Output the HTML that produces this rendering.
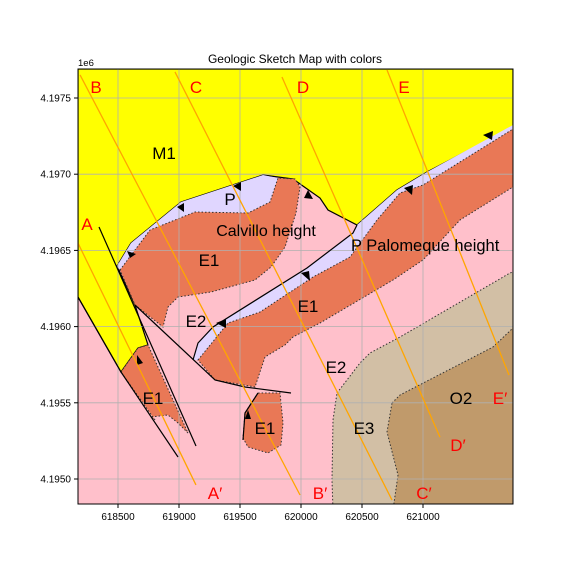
<!DOCTYPE html>
<html><head><meta charset="utf-8"><style>
body{margin:0;background:#fff}
svg{font-family:"Liberation Sans","DejaVu Sans",sans-serif}
</style></head><body>
<svg id="c" width="576" height="576" viewBox="0 0 576 576" xmlns="http://www.w3.org/2000/svg">
<text x="295" y="63" font-size="12" text-anchor="middle">Geologic Sketch Map with colors</text>
<text x="78" y="66" font-size="9.5">1e6</text>
<clipPath id="clip"><rect x="78" y="69" width="435" height="435"/></clipPath>
<g clip-path="url(#clip)">
<rect x="78" y="69" width="435" height="435" fill="#ffc0cb"/>
<polygon fill="#ffff00" stroke="#000" stroke-width="1.2" points="78,69 513,69 513,127 427,172 397,190 357,225 328,210 320,198 293,179 263,175 181,202 131,243 117,266 135,305 148,345 138,348 121,372 78,297"/>
<polygon fill="#e0d6ff" points="117,266 131,243 181,202 263,175 278,178 270,202 248,213 195,212 150,230 120,270"/>
<polygon fill="#e97856" stroke="#333" stroke-width="1" stroke-dasharray="1.5,2" points="120,270 150,230 195,212 248,213 270,202 278,178 295,179 300,187 296,213 285,247 271,267 255,280 211,292 178,297 168,307 163,327 135,305"/>
<polygon fill="#e0d6ff" points="193,360 198,343 213,327 307,268 353,233 357,225 397,190 427,172 513,125 513,129 423,185 400,193 377,220 350,257 313,277 260,312 228,323 198,360"/>
<polygon fill="#e97856" stroke="#333" stroke-width="1" stroke-dasharray="1.5,2" points="198,360 228,323 260,312 313,277 350,257 377,220 400,193 423,185 513,129 513,187 460,220 423,260 393,280 320,323 293,337 285,345 265,357 255,387 215,380"/>
<polygon fill="#e97856" stroke="#333" stroke-width="1" stroke-dasharray="1.5,2" points="121,372 138,348 148,345 188,433 178,423 168,415 151,417 155,420"/>
<polygon fill="#e97856" stroke="#333" stroke-width="1" stroke-dasharray="1.5,2" points="258,393 250,405 245,413 243,438 248,447 268,453 281,445 283,423 280,393"/>
<polygon fill="#d2bfa5" stroke="#333" stroke-width="1" stroke-dasharray="1.5,2" points="337,393 360,363 370,353 400,337 510,273 513,272 513,510 333,510 332,480 333,420"/>
<polygon fill="#c09a6b" stroke="#333" stroke-width="1" stroke-dasharray="1.5,2" points="392,403 400,395 493,347 513,328 513,510 393,510 398,475 387,432"/>
<g stroke="#b0b0b0" stroke-width="0.8" id="grid"></g>
<g fill="none" stroke="#000" stroke-width="1.2">
<polyline points="193,360 198,343 213,327 307,268 353,233 357,225"/>
<polyline points="99,227 196,446"/>
<polyline points="78,297 121,372 178,457"/>
<polyline points="135,305 215,380 245,387 291,393"/>
<polyline points="258,393 245,413 243,440"/>
</g>
<g fill="#000">
<polygon points="127,251 136,254 130,258"/><polygon points="177,207 184,203 184,212"/><polygon points="233,186 241,182 241,191"/>
<polygon points="304,198 313,199 308,190"/><polygon points="137,355 143,363 137,365"/><polygon points="216,323 226,319 226,328"/>
<polygon points="301,273 309,271 310,281"/><polygon points="404,188 413,185 412,195"/><polygon points="483,135 493,131 492,140"/>
<polygon points="245,419 251,419 248,410"/>
</g>
<g id="xs"></g>
</g>
<rect x="78" y="69" width="435" height="435" fill="none" stroke="#000" stroke-width="1"/>
<g font-size="17" text-anchor="middle">
<text x="164" y="159">M1</text><text x="230" y="205">P</text>
<text x="266" y="236" font-size="16">Calvillo height</text>
<text x="209" y="266">E1</text><text x="196" y="327">E2</text><text x="308" y="312">E1</text>
<text x="351" y="251" font-size="16.5" text-anchor="start">P Palomeque height</text>
<text x="336" y="373">E2</text><text x="153" y="404">E1</text><text x="265" y="434">E1</text>
<text x="364" y="434">E3</text><text x="461" y="404">O2</text>
</g>
<g font-size="17" fill="#ff0000" text-anchor="middle">
<text x="96" y="93">B</text><text x="196" y="93">C</text><text x="303" y="93">D</text><text x="404" y="93">E</text>
<text x="87" y="230">A</text><text x="215" y="499">A′</text><text x="320" y="499">B′</text>
<text x="424" y="499">C′</text><text x="458" y="451">D′</text><text x="500" y="404">E′</text>
</g>
<g id="ticks" font-size="10"></g>
</svg>
<script>
const xTicks=[618500,619000,619500,620000,620500,621000];
const yTicks=[4195000,4195500,4196000,4196500,4197000,4197500];
const yTickLabels=["4.1950","4.1955","4.1960","4.1965","4.1970","4.1975"];
const sectionNames=["A","B","C","D","E"];
const sectionStartX=[618172,618189,618967,619844,620705];
const sectionStartY=[4196548,4197651,4197671,4197638,4197684];
const sectionEndX=[619139,619992,620746,621139,621705];
const sectionEndY=[4194961,4194895,4194862,4195275,4195682];
const sx=x=>118+(x-618500)*0.122;
const sy=y=>98+(4197500-y)*0.1524;
const NS="http://www.w3.org/2000/svg";
const grid=document.getElementById('grid'),tk=document.getElementById('ticks'),xs=document.getElementById('xs');
function mk(tag,attrs,parent){const e=document.createElementNS(NS,tag);for(const k in attrs)e.setAttribute(k,attrs[k]);parent.appendChild(e);return e;}
xTicks.forEach(v=>{const x=sx(v);
const g=mk('line',{x1:x,x2:x,y1:69,y2:504},grid);


const t=mk('line',{x1:x,x2:x,y1:504,y2:508,stroke:'#000'},tk);


const l=mk('text',{x:x,y:520,'text-anchor':'middle'},tk);l.textContent=v;

});
yTicks.forEach((v,i)=>{const y=sy(v);
const g=mk('line',{x1:78,x2:513,y1:y,y2:y},grid);


const t=mk('line',{x1:74,x2:78,y1:y,y2:y,stroke:'#000'},tk);


const l=mk('text',{x:71,y:y+3.5,'text-anchor':'end'},tk);l.textContent=yTickLabels[i];

});
sectionNames.forEach((n,i)=>{
const l=mk('line',{x1:sx(sectionStartX[i]),y1:sy(sectionStartY[i]),x2:sx(sectionEndX[i]),y2:sy(sectionEndY[i]),stroke:'#ffa500','stroke-width':1.3},xs);

});
</script>
</body></html>
